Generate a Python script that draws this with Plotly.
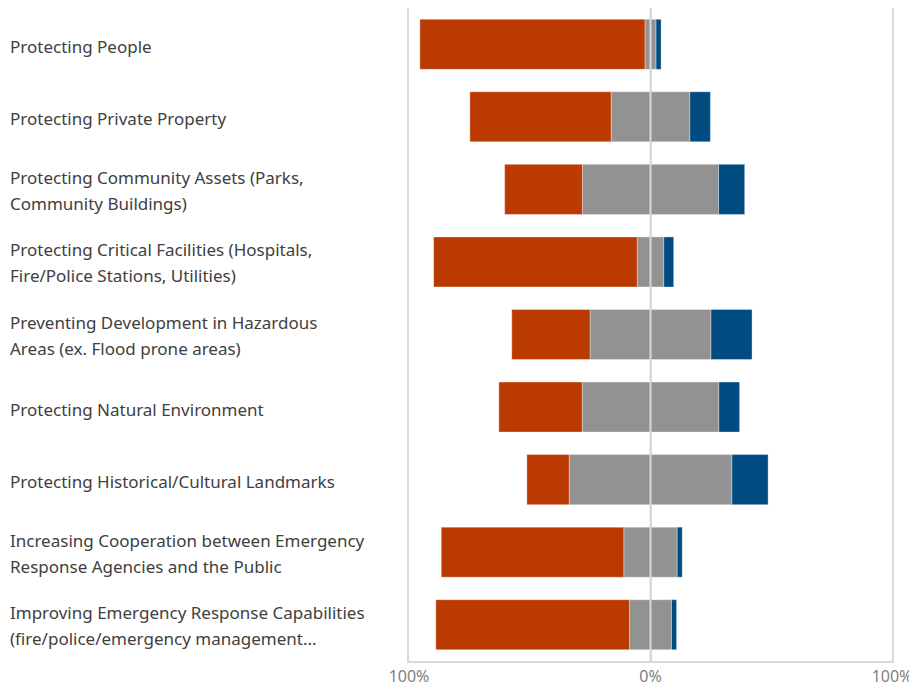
import plotly.graph_objects as go

categories = [
    "Protecting People",
    "Protecting Private Property",
    "Protecting Community Assets (Parks,<br>Community Buildings)",
    "Protecting Critical Facilities (Hospitals,<br>Fire/Police Stations, Utilities)",
    "Preventing Development in Hazardous<br>Areas (ex. Flood prone areas)",
    "Protecting Natural Environment",
    "Protecting Historical/Cultural Landmarks",
    "Increasing Cooperation between Emergency<br>Response Agencies and the Public",
    "Improving Emergency Response Capabilities<br>(fire/police/emergency management...",
]
high = [93.2, 58.5, 32.2, 84.3, 32.4, 34.5, 17.5, 75.6, 80.2]
medium = [4.6, 32.6, 56.4, 11.0, 50.1, 56.6, 67.4, 22.1, 17.4]
low = [2.1, 8.5, 10.8, 4.1, 17.0, 8.6, 15.0, 2.1, 2.1]

tick_vals = [-100, 0, 100]
tick_text = ["100%", "0%", "100%"]

RED = "#BA3A02"
GRAY = "#929292"
BLUE = "#004B80"
FONT = "Noto Sans, Open Sans, sans-serif"
GRID = "#d9d9d9"
line = dict(color="rgba(255,255,255,0.6)", width=0.6)

fig = go.Figure()
fig.add_trace(go.Bar(y=categories, x=[-m / 2 for m in medium], orientation="h",
                     name="Medium", marker=dict(color=GRAY, line=line),
                     customdata=medium, hovertemplate="%{customdata}%<extra>Medium</extra>"))
fig.add_trace(go.Bar(y=categories, x=[-h for h in high], orientation="h",
                     name="High", marker=dict(color=RED, line=line),
                     customdata=high, hovertemplate="%{customdata}%<extra>High</extra>"))
fig.add_trace(go.Bar(y=categories, x=[m / 2 for m in medium], orientation="h",
                     name="Medium ", marker=dict(color=GRAY, line=line), showlegend=False,
                     customdata=medium, hovertemplate="%{customdata}%<extra>Medium</extra>"))
fig.add_trace(go.Bar(y=categories, x=low, orientation="h",
                     name="Low", marker=dict(color=BLUE, line=line),
                     customdata=low, hovertemplate="%{customdata}%<extra>Low</extra>"))

W, H = 909, 680
L, R, T, B = 401, 25, 0, 27
plot_w = W - L - R

for c in categories:
    parts = c.split("<br>")
    if len(parts) == 1:
        shifts = [-2]
    else:
        shifts = [12, -14]
    for p, s in zip(parts, shifts):
        fig.add_annotation(text=p, xref="paper", yref="y", x=(2 - L) / plot_w, y=c,
                           xanchor="left", yanchor="middle", align="left", showarrow=False,
                           yshift=s, borderpad=0, borderwidth=0,
                           font=dict(family=FONT, size=17, color="#404040"))

fig.add_shape(type="line", xref="x", yref="paper", x0=0, x1=0, y0=0, y1=1,
              line=dict(color=GRID, width=2), layer="above")

fig.update_layout(
    width=W, height=H,
    margin=dict(l=L, r=R, t=T, b=B, autoexpand=False),
    barmode="relative", bargap=0.31,
    plot_bgcolor="white", paper_bgcolor="white",
    showlegend=False,
    font=dict(family=FONT),
    xaxis=dict(range=[-100, 100], tickvals=tick_vals, ticktext=tick_text,
               showgrid=True, gridcolor=GRID, gridwidth=2, zeroline=False,
               showline=True, linecolor=GRID, linewidth=2, automargin=False,
               tickfont=dict(size=16, color="#7f7f7f"), ticks="",
               fixedrange=True),
    yaxis=dict(autorange="reversed", showticklabels=False, showgrid=False,
               zeroline=False, ticks="", fixedrange=True, automargin=False,
               showline=True, mirror=True, linecolor=GRID, linewidth=2),
)

fig.write_html("out.html")
